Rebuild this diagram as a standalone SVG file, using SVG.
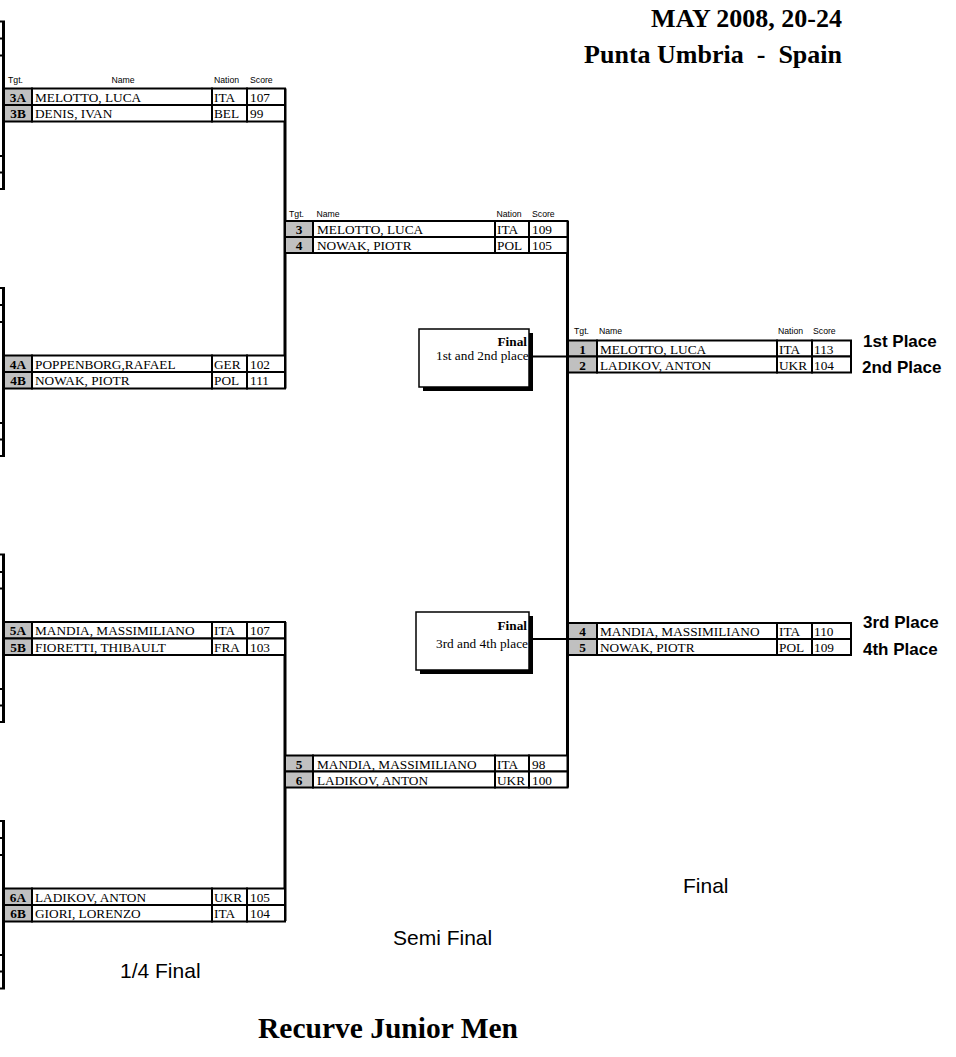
<svg xmlns="http://www.w3.org/2000/svg" width="956" height="1057" viewBox="0 0 956 1057">
<style>
.c{fill:#fff;stroke:#000;stroke-width:2}
.tg{fill:#c0c0c0;stroke:#000;stroke-width:2}
.t{font-family:"Liberation Serif","Times New Roman",serif;font-size:13.3px;fill:#000}
.tb{font-family:"Liberation Serif","Times New Roman",serif;font-size:13.3px;font-weight:bold;text-anchor:middle;fill:#000}
.h{font-family:"Liberation Sans",Arial,sans-serif;font-size:8.7px;fill:#000}
.hm{font-family:"Liberation Sans",Arial,sans-serif;font-size:8.7px;fill:#000;text-anchor:middle}
.conn{stroke:#000;stroke-width:3;fill:none}
.thin{stroke:#000;stroke-width:2;fill:none}
.stage{font-family:"Liberation Sans",Arial,sans-serif;font-size:21px;fill:#000}
.place{font-family:"Liberation Sans",Arial,sans-serif;font-size:17px;font-weight:bold;fill:#000}
.title{font-family:"Liberation Serif","Times New Roman",serif;font-weight:bold;fill:#000;white-space:pre}
.fb{fill:#fff;stroke:#000;stroke-width:1.5}
.fs{fill:#000}
</style>
<rect x="0" y="0" width="956" height="1057" fill="#fff"/>

<!-- left fragments of previous round -->
<g id="fragments">
  <line class="conn" x1="3.5" y1="21.5" x2="3.5" y2="189"/>
  <line class="conn" x1="3.5" y1="288" x2="3.5" y2="456"/>
  <line class="conn" x1="3.5" y1="554.5" x2="3.5" y2="722"/>
  <line class="conn" x1="3.5" y1="821" x2="3.5" y2="988.5"/>
  <path class="thin" d="M0 21.5H5M0 38.5H5M0 55.5H5M0 156H5M0 172.5H5M0 189H5
  M0 288H5M0 305H5M0 322H5M0 423H5M0 439.5H5M0 456H5
  M0 554.5H5M0 572H5M0 588.5H5M0 689H5M0 705.5H5M0 722H5
  M0 821H5M0 838H5M0 855H5M0 955H5M0 971.5H5M0 988.5H5"/>
</g>

<g id="connectors">
  <line class="conn" x1="285" y1="88.5" x2="285" y2="388.5"/>
  <line class="conn" x1="285" y1="622" x2="285" y2="921"/>
  <line class="conn" x1="567.5" y1="221" x2="567.5" y2="787.5"/>
  <line class="thin" x1="529" y1="356.5" x2="567.5" y2="356.5"/>
  <line class="thin" x1="529" y1="639" x2="567.5" y2="639"/>
</g>

<!-- headers -->
<g id="header-q">
  <text class="h" x="8" y="83.3">Tgt.</text>
  <text class="hm" x="123" y="83.3">Name</text>
  <text class="h" x="214" y="83.3">Nation</text>
  <text class="h" x="250" y="83.3">Score</text>
</g>
<g id="header-s">
  <text class="h" x="289" y="216.7">Tgt.</text>
  <text class="h" x="316.5" y="216.7">Name</text>
  <text class="h" x="496.5" y="216.7">Nation</text>
  <text class="h" x="532" y="216.7">Score</text>
</g>
<g id="header-f">
  <text class="h" x="574" y="334">Tgt.</text>
  <text class="h" x="599" y="334">Name</text>
  <text class="h" x="778" y="334">Nation</text>
  <text class="h" x="813" y="334">Score</text>
</g>

<!-- quarter finals -->
<g id="q3" transform="translate(0,88.5)">
  <rect class="tg" x="4" y="0" width="28" height="16.5"/><rect class="c" x="32" y="0" width="180" height="16.5"/><rect class="c" x="212" y="0" width="35" height="16.5"/><rect class="c" x="247" y="0" width="38" height="16.5"/>
  <rect class="tg" x="4" y="16.5" width="28" height="16.5"/><rect class="c" x="32" y="16.5" width="180" height="16.5"/><rect class="c" x="212" y="16.5" width="35" height="16.5"/><rect class="c" x="247" y="16.5" width="38" height="16.5"/>
  <text class="tb" x="18" y="13.3">3A</text><text class="t" x="35" y="13.3">MELOTTO, LUCA</text><text class="t" x="214" y="13.3">ITA</text><text class="t" x="250" y="13.3">107</text>
  <text class="tb" x="18" y="29.8">3B</text><text class="t" x="35" y="29.8">DENIS, IVAN</text><text class="t" x="214" y="29.8">BEL</text><text class="t" x="250" y="29.8">99</text>
</g>
<g id="q4" transform="translate(0,355.5)">
  <rect class="tg" x="4" y="0" width="28" height="16.5"/><rect class="c" x="32" y="0" width="180" height="16.5"/><rect class="c" x="212" y="0" width="35" height="16.5"/><rect class="c" x="247" y="0" width="38" height="16.5"/>
  <rect class="tg" x="4" y="16.5" width="28" height="16.5"/><rect class="c" x="32" y="16.5" width="180" height="16.5"/><rect class="c" x="212" y="16.5" width="35" height="16.5"/><rect class="c" x="247" y="16.5" width="38" height="16.5"/>
  <text class="tb" x="18" y="13.3">4A</text><text class="t" x="35" y="13.3">POPPENBORG,RAFAEL</text><text class="t" x="214" y="13.3">GER</text><text class="t" x="250" y="13.3">102</text>
  <text class="tb" x="18" y="29.8">4B</text><text class="t" x="35" y="29.8">NOWAK, PIOTR</text><text class="t" x="214" y="29.8">POL</text><text class="t" x="250" y="29.8">111</text>
</g>
<g id="q5" transform="translate(0,622)">
  <rect class="tg" x="4" y="0" width="28" height="16.5"/><rect class="c" x="32" y="0" width="180" height="16.5"/><rect class="c" x="212" y="0" width="35" height="16.5"/><rect class="c" x="247" y="0" width="38" height="16.5"/>
  <rect class="tg" x="4" y="16.5" width="28" height="16.5"/><rect class="c" x="32" y="16.5" width="180" height="16.5"/><rect class="c" x="212" y="16.5" width="35" height="16.5"/><rect class="c" x="247" y="16.5" width="38" height="16.5"/>
  <text class="tb" x="18" y="13.3">5A</text><text class="t" x="35" y="13.3">MANDIA, MASSIMILIANO</text><text class="t" x="214" y="13.3">ITA</text><text class="t" x="250" y="13.3">107</text>
  <text class="tb" x="18" y="29.8">5B</text><text class="t" x="35" y="29.8">FIORETTI, THIBAULT</text><text class="t" x="214" y="29.8">FRA</text><text class="t" x="250" y="29.8">103</text>
</g>
<g id="q6" transform="translate(0,888.5)">
  <rect class="tg" x="4" y="0" width="28" height="16.5"/><rect class="c" x="32" y="0" width="180" height="16.5"/><rect class="c" x="212" y="0" width="35" height="16.5"/><rect class="c" x="247" y="0" width="38" height="16.5"/>
  <rect class="tg" x="4" y="16.5" width="28" height="16.5"/><rect class="c" x="32" y="16.5" width="180" height="16.5"/><rect class="c" x="212" y="16.5" width="35" height="16.5"/><rect class="c" x="247" y="16.5" width="38" height="16.5"/>
  <text class="tb" x="18" y="13.3">6A</text><text class="t" x="35" y="13.3">LADIKOV, ANTON</text><text class="t" x="214" y="13.3">UKR</text><text class="t" x="250" y="13.3">105</text>
  <text class="tb" x="18" y="29.8">6B</text><text class="t" x="35" y="29.8">GIORI, LORENZO</text><text class="t" x="214" y="29.8">ITA</text><text class="t" x="250" y="29.8">104</text>
</g>

<!-- semi finals -->
<g id="s1" transform="translate(0,221)">
  <rect class="tg" x="285" y="0" width="28" height="16"/><rect class="c" x="313" y="0" width="182" height="16"/><rect class="c" x="495" y="0" width="34" height="16"/><rect class="c" x="529" y="0" width="38.5" height="16"/>
  <rect class="tg" x="285" y="16" width="28" height="16"/><rect class="c" x="313" y="16" width="182" height="16"/><rect class="c" x="495" y="16" width="34" height="16"/><rect class="c" x="529" y="16" width="38.5" height="16"/>
  <text class="tb" x="299" y="13">3</text><text class="t" x="317" y="13">MELOTTO, LUCA</text><text class="t" x="497" y="13">ITA</text><text class="t" x="532" y="13">109</text>
  <text class="tb" x="299" y="29">4</text><text class="t" x="317" y="29">NOWAK, PIOTR</text><text class="t" x="497" y="29">POL</text><text class="t" x="532" y="29">105</text>
</g>
<g id="s2" transform="translate(0,755.5)">
  <rect class="tg" x="285" y="0" width="28" height="16"/><rect class="c" x="313" y="0" width="182" height="16"/><rect class="c" x="495" y="0" width="34" height="16"/><rect class="c" x="529" y="0" width="38.5" height="16"/>
  <rect class="tg" x="285" y="16" width="28" height="16"/><rect class="c" x="313" y="16" width="182" height="16"/><rect class="c" x="495" y="16" width="34" height="16"/><rect class="c" x="529" y="16" width="38.5" height="16"/>
  <text class="tb" x="299" y="13">5</text><text class="t" x="317" y="13">MANDIA, MASSIMILIANO</text><text class="t" x="497" y="13">ITA</text><text class="t" x="532" y="13">98</text>
  <text class="tb" x="299" y="29">6</text><text class="t" x="317" y="29">LADIKOV, ANTON</text><text class="t" x="497" y="29">UKR</text><text class="t" x="532" y="29">100</text>
</g>

<!-- finals -->
<g id="f1" transform="translate(0,340.5)">
  <rect class="tg" x="568" y="0" width="29" height="16"/><rect class="c" x="597" y="0" width="180" height="16"/><rect class="c" x="777" y="0" width="35" height="16"/><rect class="c" x="812" y="0" width="39" height="16"/>
  <rect class="tg" x="568" y="16" width="29" height="16"/><rect class="c" x="597" y="16" width="180" height="16"/><rect class="c" x="777" y="16" width="35" height="16"/><rect class="c" x="812" y="16" width="39" height="16"/>
  <text class="tb" x="582.5" y="13">1</text><text class="t" x="600" y="13">MELOTTO, LUCA</text><text class="t" x="779" y="13">ITA</text><text class="t" x="814" y="13">113</text>
  <text class="tb" x="582.5" y="29">2</text><text class="t" x="600" y="29">LADIKOV, ANTON</text><text class="t" x="779" y="29">UKR</text><text class="t" x="814" y="29">104</text>
</g>
<g id="f2" transform="translate(0,623)">
  <rect class="tg" x="568" y="0" width="29" height="16"/><rect class="c" x="597" y="0" width="180" height="16"/><rect class="c" x="777" y="0" width="35" height="16"/><rect class="c" x="812" y="0" width="39" height="16"/>
  <rect class="tg" x="568" y="16" width="29" height="16"/><rect class="c" x="597" y="16" width="180" height="16"/><rect class="c" x="777" y="16" width="35" height="16"/><rect class="c" x="812" y="16" width="39" height="16"/>
  <text class="tb" x="582.5" y="13">4</text><text class="t" x="600" y="13">MANDIA, MASSIMILIANO</text><text class="t" x="779" y="13">ITA</text><text class="t" x="814" y="13">110</text>
  <text class="tb" x="582.5" y="29">5</text><text class="t" x="600" y="29">NOWAK, PIOTR</text><text class="t" x="779" y="29">POL</text><text class="t" x="814" y="29">109</text>
</g>

<!-- final label boxes -->
<g id="final12">
  <rect class="fs" x="423" y="333" width="110" height="58"/>
  <rect class="fb" x="419" y="329" width="110" height="58"/>
  <text class="t" x="527" y="345.7" text-anchor="end" font-weight="bold">Final</text>
  <text class="t" x="436" y="360">1st and 2nd place</text>
</g>
<g id="final34">
  <rect class="fs" x="420" y="616" width="113" height="58"/>
  <rect class="fb" x="416" y="612" width="113" height="58"/>
  <text class="t" x="527" y="630" text-anchor="end" font-weight="bold">Final</text>
  <text class="t" x="436" y="647.7">3rd and 4th place</text>
</g>

<g id="places">
  <text class="place" x="863" y="347">1st Place</text>
  <text class="place" x="862" y="373">2nd Place</text>
  <text class="place" x="863" y="628">3rd Place</text>
  <text class="place" x="863" y="655">4th Place</text>
</g>

<g id="stages">
  <text class="stage" x="683" y="893">Final</text>
  <text class="stage" x="393" y="945">Semi Final</text>
  <text class="stage" x="120" y="978">1/4 Final</text>
</g>

<g id="titles">
  <text class="title" x="842" y="27" font-size="26" text-anchor="end">MAY 2008, 20-24</text>
  <text class="title" x="842" y="63" font-size="26" text-anchor="end">Punta Umbria  -  Spain</text>
  <text class="title" x="258" y="1038" font-size="29.5">Recurve Junior Men</text>
</g>
</svg>
